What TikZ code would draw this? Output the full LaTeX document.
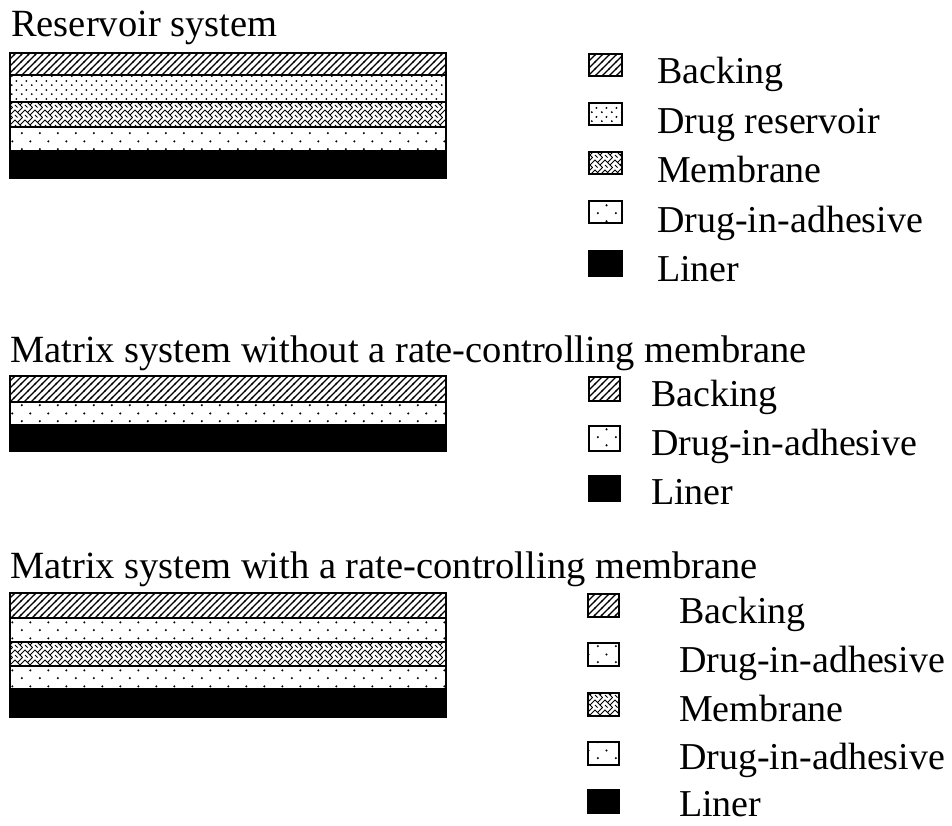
\documentclass[tikz,border=0pt]{standalone}
\usepackage{fontspec}
\setmainfont{Liberation Serif}
\usetikzlibrary{patterns}
\pgfdeclarepatternformonly{hatchB}{\pgfqpoint{-1pt}{-1pt}}{\pgfqpoint{8pt}{8pt}}{\pgfqpoint{7pt}{7pt}}{%
  \pgfsetlinewidth{1.3pt}%
  \pgfpathmoveto{\pgfqpoint{-1pt}{-1pt}}\pgfpathlineto{\pgfqpoint{8pt}{8pt}}\pgfusepath{stroke}}
\pgfdeclarepatternformonly{denseDots}{\pgfqpoint{0pt}{0pt}}{\pgfqpoint{10pt}{9pt}}{\pgfqpoint{10pt}{9pt}}{%
  \pgfpathcircle{\pgfqpoint{2pt}{2pt}}{1.1pt}%
  \pgfpathcircle{\pgfqpoint{7pt}{6.5pt}}{1.1pt}%
  \pgfusepath{fill}}
\pgfdeclarepatternformonly{sparseDots}{\pgfqpoint{0pt}{0pt}}{\pgfqpoint{18pt}{16pt}}{\pgfqpoint{18pt}{16pt}}{%
  \pgfpathcircle{\pgfqpoint{4pt}{4pt}}{1.2pt}%
  \pgfpathcircle{\pgfqpoint{13pt}{12pt}}{1.2pt}%
  \pgfusepath{fill}}
\pgfdeclarepatternformonly{weave}{\pgfqpoint{-1pt}{-1pt}}{\pgfqpoint{11pt}{11pt}}{\pgfqpoint{10pt}{10pt}}{%
  \pgfsetlinewidth{0.9pt}%
  \pgfpathmoveto{\pgfqpoint{0pt}{0pt}}\pgfpathlineto{\pgfqpoint{5pt}{5pt}}\pgfpathlineto{\pgfqpoint{10pt}{0pt}}%
  \pgfpathmoveto{\pgfqpoint{0pt}{5pt}}\pgfpathlineto{\pgfqpoint{2.5pt}{7.5pt}}%
  \pgfpathmoveto{\pgfqpoint{7.5pt}{2.5pt}}\pgfpathlineto{\pgfqpoint{10pt}{5pt}}%
  \pgfpathmoveto{\pgfqpoint{5pt}{10pt}}\pgfpathlineto{\pgfqpoint{7.5pt}{7.5pt}}%
  \pgfpathmoveto{\pgfqpoint{0pt}{10pt}}\pgfpathlineto{\pgfqpoint{2.5pt}{7.5pt}}%
  \pgfusepath{stroke}}
\begin{document}
\begin{tikzpicture}[x=1pt,y=-1pt,
  layer/.style={draw=black,line width=2pt},
  backing/.style={layer,pattern=hatchB},
  reservoir/.style={layer,pattern=denseDots},
  membrane/.style={layer,pattern=weave},
  adhesive/.style={layer,pattern=sparseDots},
  liner/.style={layer,fill=black},
  title/.style={anchor=base west,inner sep=0pt,font=\fontsize{38.5}{44}\selectfont},
  lbl/.style={anchor=base west,inner sep=0pt,font=\fontsize{38}{44}\selectfont}]
\useasboundingbox (0,0) rectangle (952,825);
% ---------- Reservoir system
\node[title] (t1) at (11,36) {Reservoir system};
\draw[backing]   (10,53)  rectangle (446,75);
\draw[reservoir] (10,75)  rectangle (446,102);
\draw[membrane]  (10,102) rectangle (446,127);
\draw[adhesive]  (10,127) rectangle (446,151);
\draw[liner]     (10,151) rectangle (446,178);
\draw[backing]   (589,54)  rectangle (622,76);
\draw[reservoir] (589,103) rectangle (622,125);
\draw[membrane]  (589,152) rectangle (622,174);
\draw[adhesive]  (589,201) rectangle (622,223);
\draw[liner]     (589,251) rectangle (622,276);
\node[lbl] (a1) at (657,83)  {Backing};
\node[lbl] (a2) at (657,133) {Drug reservoir};
\node[lbl] (a3) at (657,182) {Membrane};
\node[lbl] (a4) at (657,232) {Drug-in-adhesive};
\node[lbl] (a5) at (657,281) {Liner};
% ---------- Matrix without membrane
\node[title] (t2) at (10,362) {Matrix system without a rate-controlling membrane};
\draw[backing]  (10,376) rectangle (446,402);
\draw[adhesive] (10,402) rectangle (446,425);
\draw[liner]    (10,425) rectangle (446,451);
\draw[backing]  (589,377) rectangle (620,401);
\draw[adhesive] (589,426) rectangle (620,451);
\draw[liner]    (589,476) rectangle (620,501);
\node[lbl] (b1) at (651,406) {Backing};
\node[lbl] (b2) at (651,455) {Drug-in-adhesive};
\node[lbl] (b3) at (651,504) {Liner};
% ---------- Matrix with membrane
\node[title] (t3) at (10,578) {Matrix system with a rate-controlling membrane};
\draw[backing]  (10,593) rectangle (446,618);
\draw[adhesive] (10,618) rectangle (446,642);
\draw[membrane] (10,642) rectangle (446,666);
\draw[adhesive] (10,666) rectangle (446,689);
\draw[liner]    (10,689) rectangle (446,717);
\draw[backing]  (588,594) rectangle (619,617);
\draw[adhesive] (588,643) rectangle (619,666);
\draw[membrane] (588,693) rectangle (619,716);
\draw[adhesive] (588,742) rectangle (619,765);
\draw[liner]    (588,790) rectangle (619,813);
\node[lbl] (c1) at (679,623) {Backing};
\node[lbl] (c2) at (679,672) {Drug-in-adhesive};
\node[lbl] (c3) at (679,721) {Membrane};
\node[lbl] (c4) at (679,769) {Drug-in-adhesive};
\node[lbl] (c5) at (679,816) {Liner};
\end{tikzpicture}
\end{document}
